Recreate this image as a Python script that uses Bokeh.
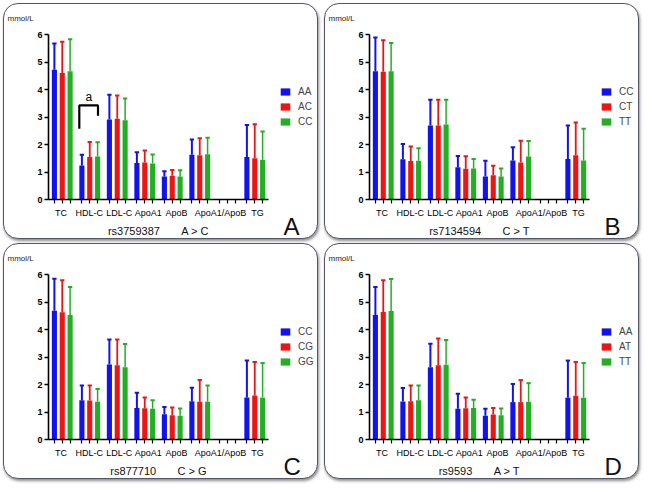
from bokeh.plotting import figure
from bokeh.models import (FixedTicker, Range1d, Legend, LegendItem, Label, LinearAxis,
                          ColumnDataSource)
from bokeh.layouts import column, row
from bokeh.embed import file_html
from bokeh.resources import INLINE
from bokeh.core.properties import value

# ---------------- data ----------------
groups = ["TC", "HDL-C", "LDL-C", "ApoA1", "ApoB", "ApoA1/ApoB", "", "TG"]
# where each category label sits, in group units (as printed under the axis)
label_names = ["TC", "HDL-C", "LDL-C", "ApoA1", "ApoB", "ApoA1/ApoB", "TG"]
label_pos = [-0.04, 0.98, 2.07, 3.13, 4.16, 5.76, 7.10]

panel_letters = ["A", "B", "C", "D"]
snp_names = ["rs3759387", "rs7134594", "rs877710", "rs9593"]
snp_changes = ["A > C", "C > T", "C > G", "A > T"]
genotypes = [["AA", "AC", "CC"], ["CC", "CT", "TT"], ["CC", "CG", "GG"], ["AA", "AT", "TT"]]
y_unit_label = "mmol/L"

# means (None = no bar)
A_mean = [[4.72, 1.24, 2.91, 1.33, 0.84, 1.63, None, 1.55],
          [4.60, 1.55, 2.94, 1.35, 0.86, 1.61, None, 1.50],
          [4.66, 1.56, 2.88, 1.31, 0.84, 1.65, None, 1.44]]
A_upper = [[5.67, 1.63, 3.81, 1.72, 1.03, 2.18, None, 2.71],
           [5.74, 2.09, 3.78, 1.78, 1.07, 2.23, None, 2.74],
           [5.83, 2.08, 3.67, 1.64, 1.06, 2.25, None, 2.47]]
B_mean = [[4.66, 1.46, 2.69, 1.17, 0.84, 1.42, None, 1.47],
          [4.65, 1.40, 2.69, 1.12, 0.88, 1.35, None, 1.61],
          [4.66, 1.41, 2.73, 1.13, 0.84, 1.56, None, 1.42]]
B_upper = [[5.89, 2.02, 3.63, 1.58, 1.41, 1.90, None, 2.69],
           [5.79, 1.93, 3.63, 1.57, 1.23, 2.14, None, 2.80],
           [5.69, 1.86, 3.63, 1.47, 1.13, 2.13, None, 2.57]]
C_mean = [[4.68, 1.43, 2.73, 1.15, 0.92, 1.39, None, 1.53],
          [4.63, 1.42, 2.70, 1.14, 0.88, 1.37, None, 1.60],
          [4.53, 1.37, 2.63, 1.12, 0.86, 1.37, None, 1.52]]
C_upper = [[5.85, 1.96, 3.64, 1.70, 1.18, 1.88, None, 2.87],
           [5.79, 1.96, 3.64, 1.53, 1.16, 2.16, None, 2.82],
           [5.55, 1.84, 3.47, 1.43, 1.13, 1.96, None, 2.78]]
D_mean = [[4.53, 1.38, 2.63, 1.12, 0.86, 1.36, None, 1.52],
          [4.64, 1.39, 2.70, 1.14, 0.91, 1.36, None, 1.59],
          [4.67, 1.43, 2.72, 1.15, 0.88, 1.37, None, 1.52]]
D_upper = [[5.55, 1.87, 3.48, 1.66, 1.12, 2.02, None, 2.87],
           [5.79, 1.96, 3.67, 1.53, 1.15, 2.16, None, 2.82],
           [5.84, 1.96, 3.62, 1.45, 1.13, 2.05, None, 2.78]]

means = [A_mean, B_mean, C_mean, D_mean]
uppers = [A_upper, B_upper, C_upper, D_upper]

# significance bracket in panel A (data units: group index, mmol/L)
bracket_x = [0.62, 0.62, 1.30, 1.30]
bracket_y = [2.57, 3.42, 3.42, 3.05]
bracket_text_x = 0.97
bracket_text_y = 3.72
bracket_text = "a"

y_ticks = [0, 1, 2, 3, 4, 5, 6]
y_max = 6

# ---------------- styling / layout ----------------
colors = ["#1212EE", "#EE1414", "#22B022"]
err_widths = [2.0, 1.8, 1.5]
FONT = "Liberation Sans"
UNIT = 70         # x units per group
OFF = 20          # x offset between bars
BAR_W = 13
CAP = 5.5

PW, PH = 315, 236                    # panel size
FL, FT, FW, FH = 44, 30, 220, 165    # chart area inside the panel
SUB_BASE = 226                       # baseline of subtitle (px from panel top)
LET_BASE = 222                       # baseline of panel letter
LET_X = 279
UNIT_BASE = 14                       # baseline of "mmol/L"


def make_panel(k):
    n = len(groups)
    ax_start, ax_end = -UNIT / 2, UNIT * n - UNIT / 2
    ppx = FW / (ax_end - ax_start)
    ppy = FH / y_max
    x0 = ax_start - FL / ppx
    xr = Range1d(x0, x0 + PW / ppx)
    yr = Range1d(-(PH - FT - FH) / ppy, y_max + FT / ppy)

    def sx(px):   # panel pixel -> data x
        return x0 + px / ppx

    def sy(py):   # panel pixel (from top) -> data y
        return y_max - (py - FT) / ppy

    p = figure(width=PW, height=PH, output_backend="svg", toolbar_location=None,
               x_range=xr, y_range=yr,
               min_border_left=0, min_border_top=0, min_border_right=0, min_border_bottom=0,
               styles={"border": "1.5px solid #55556a", "border-radius": "15px",
                       "box-shadow": "1px 2px 3px rgba(0,0,0,0.45)",
                       "background": "white"})
    p.outline_line_color = None
    p.xgrid.visible = False
    p.ygrid.visible = False
    p.background_fill_color = None
    p.border_fill_color = None

    items = []
    for s in range(3):
        xs, tops, ups = [], [], []
        for g in range(n):
            m = means[k][s][g]
            if m is None:
                continue
            xs.append(g * UNIT + (s - 1) * OFF)
            tops.append(m)
            ups.append(uppers[k][s][g])
        src = ColumnDataSource(dict(x=xs, top=tops, up=ups,
                                    cl=[x - CAP for x in xs], cr=[x + CAP for x in xs]))
        r = p.vbar(x="x", top="top", width=BAR_W, bottom=0, source=src,
                   fill_color=colors[s], line_color=None)
        p.segment(x0="x", y0="top", x1="x", y1="up", source=src,
                  line_color=colors[s], line_width=err_widths[s])
        p.segment(x0="cl", y0="up", x1="cr", y1="up", source=src,
                  line_color=colors[s], line_width=2)
        items.append(LegendItem(label=genotypes[k][s], renderers=[r]))

    # x axis: a tick under every bar slot, drawn at y = 0, no labels
    ticks = []
    for g in range(n):
        for s in range(3):
            ticks.append(g * UNIT + (s - 1) * OFF)
    xa = p.xaxis[0]
    xa.fixed_location = 0
    xa.bounds = (ax_start, ax_end)
    xa.ticker = FixedTicker(ticks=ticks)
    xa.major_label_overrides = {t: "" for t in ticks}
    xa.minor_tick_line_color = None
    xa.major_tick_in = 0
    xa.major_tick_out = 4
    xa.major_tick_line_width = 1.2
    xa.axis_line_width = 1.6
    xa.major_label_text_font_size = "9px"

    # second x axis carrying the category names
    lab_ticks = [int(round(v * UNIT)) for v in label_pos]
    xa2 = LinearAxis(fixed_location=0, ticker=FixedTicker(ticks=lab_ticks),
                     major_label_overrides=dict(zip(lab_ticks, label_names)),
                     axis_line_color=None, major_tick_line_color=None,
                     minor_tick_line_color=None, major_tick_in=0, major_tick_out=4,
                     major_label_standoff=4, major_label_text_font=FONT,
                     major_label_text_font_size="9px", major_label_text_color="black")
    p.add_layout(xa2, "below")

    ya = p.yaxis[0]
    ya.fixed_location = ax_start
    ya.bounds = (0, y_max)
    ya.ticker = FixedTicker(ticks=y_ticks)
    ya.minor_tick_line_color = None
    ya.major_tick_in = 0
    ya.major_tick_out = 4
    ya.major_tick_line_width = 1.4
    ya.axis_line_width = 1.6
    ya.major_label_standoff = 2
    ya.major_label_text_font = FONT
    ya.major_label_text_font_style = "bold"
    ya.major_label_text_font_size = "9px"
    ya.major_label_text_color = "black"

    legend = Legend(items=items, location=(275, 113), padding=0, margin=0,
                    spacing=4, glyph_width=12, glyph_height=9, label_height=9,
                    label_standoff=7, label_text_font=FONT,
                    label_text_font_size="10px", border_line_color=None,
                    background_fill_alpha=0)
    p.add_layout(legend, "center")

    p.add_layout(Label(x=sx(3), y=sy(UNIT_BASE), text=y_unit_label,
                       text_baseline="alphabetic", text_font=FONT,
                       text_font_size="8px", text_color="#222222"))
    p.add_layout(Label(x=sx(FL + FW / 2), y=sy(SUB_BASE),
                       text=snp_names[k] + "\u00a0" * 7 + snp_changes[k],
                       text_align="center", text_baseline="alphabetic",
                       text_font=FONT, text_font_size="11px", text_color="#111111"))
    p.add_layout(Label(x=sx(LET_X), y=sy(LET_BASE), text=panel_letters[k],
                       text_baseline="alphabetic", text_font=FONT,
                       text_font_size="24px", text_color="#111111"))

    if k == 0:
        p.line(x=[v * UNIT for v in bracket_x], y=bracket_y, line_color="black",
               line_width=2.2)
        p.text(x=[bracket_text_x * UNIT], y=[bracket_text_y], text=[bracket_text],
               text_align="center", text_baseline="alphabetic",
               text_font=value(FONT), text_font_size="12px", text_color="black")
    return p


panels = [make_panel(k) for k in range(4)]
layout = column(row(panels[0], panels[1], spacing=6),
                row(panels[2], panels[3], spacing=6), spacing=4, margin=(3, 0, 0, 3))

open("out.html", "w").write(file_html(layout, INLINE))
